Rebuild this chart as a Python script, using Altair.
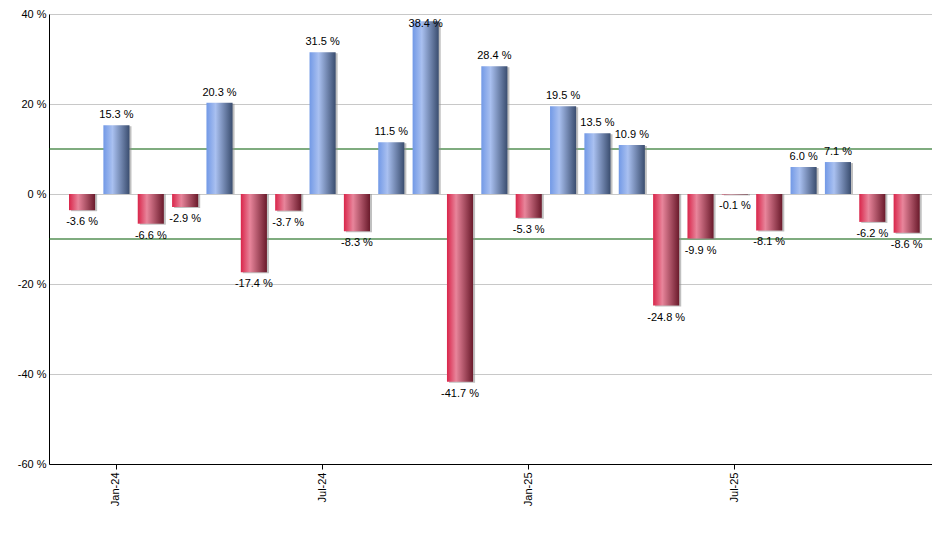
import altair as alt
import pandas as pd

months = ["Dec-23", "Jan-24", "Feb-24", "Mar-24", "Apr-24", "May-24", "Jun-24",
          "Jul-24", "Aug-24", "Sep-24", "Oct-24", "Nov-24", "Dec-24",
          "Jan-25", "Feb-25", "Mar-25", "Apr-25", "May-25", "Jun-25",
          "Jul-25", "Aug-25", "Sep-25", "Oct-25", "Nov-25", "Dec-25"]
values = [-3.6, 15.3, -6.6, -2.9, 20.3, -17.4, -3.7, 31.5, -8.3, 11.5, 38.4, -41.7, 28.4,
          -5.3, 19.5, 13.5, 10.9, -24.8, -9.9, -0.1, -8.1, 6.0, 7.1, -6.2, -8.6]
tick_labels = ["Jan-24", "Jul-24", "Jan-25", "Jul-25"]
y_ticks = [-60, -40, -20, 0, 20, 40]
ref_lines = [10, -10]

df = pd.DataFrame({"month": months, "v": values})
ref_df = pd.DataFrame({"r": ref_lines})

FONT = "Liberation Sans"

x_axis = alt.Axis(values=tick_labels, title=None, labelAngle=270,
                  labelAlign="right", labelBaseline="middle",
                  tickSize=5, tickColor="black", labelPadding=3,
                  domainColor="black", grid=False,
                  labelFont=FONT, labelFontSize=11, labelColor="black")
x_enc = alt.X("month:N", sort=months,
              scale=alt.Scale(paddingInner=0.24, paddingOuter=0.47, align=0.62),
              axis=x_axis)
y_scale = alt.Scale(domain=[-60, 40], nice=False, zero=False)
y_axis = alt.Axis(values=y_ticks, title=None,
                  labelExpr="datum.value + ' %'", ticks=False,
                  labelPadding=3, domainColor="black",
                  grid=True, gridColor="#c8c8c8",
                  labelFont=FONT, labelFontSize=11, labelColor="black")
y_enc = alt.Y("v:Q", scale=y_scale, axis=y_axis)

blue = alt.Gradient(gradient="linear", x1=0, x2=1, y1=0, y2=0,
                    stops=[alt.GradientStop(color="#7299e6", offset=0),
                           alt.GradientStop(color="#a9c0f0", offset=0.35),
                           alt.GradientStop(color="#3a4d6f", offset=1)])
red = alt.Gradient(gradient="linear", x1=0, x2=1, y1=0, y2=0,
                   stops=[alt.GradientStop(color="#d9254a", offset=0),
                          alt.GradientStop(color="#e8859b", offset=0.35),
                          alt.GradientStop(color="#6a1a2b", offset=1)])

base = alt.Chart(df)

rules = alt.Chart(ref_df).mark_rule(color="#005a00", strokeWidth=1.2).encode(
    y=alt.Y("r:Q", scale=y_scale, axis=y_axis))

shadow = base.mark_bar(color="#8c8c8c", opacity=0.55, xOffset=2, yOffset=1).encode(
    x=x_enc, y=y_enc, y2=alt.datum(0))

pos_bars = base.transform_filter("datum.v >= 0").mark_bar(color=blue).encode(
    x=x_enc, y=y_enc, y2=alt.datum(0))
neg_bars = base.transform_filter("datum.v < 0").mark_bar(color=red).encode(
    x=x_enc, y=y_enc, y2=alt.datum(0))

label_expr = "(datum.v < 0 ? '-' : '') + format(abs(datum.v), '.1f') + ' %'"

pos_text = base.transform_filter("datum.v >= 0").transform_calculate(
    label=label_expr,
    ly="datum.v > 36 ? datum.v - 2.8 : datum.v"
).mark_text(baseline="alphabetic", dy=-7, font=FONT, fontSize=11, color="black").encode(
    x=alt.X("month:N", sort=months), y=alt.Y("ly:Q", scale=y_scale), text="label:N")
neg_text = base.transform_filter("datum.v < 0").transform_calculate(
    label=label_expr
).mark_text(baseline="top", dy=6, font=FONT, fontSize=11, color="black").encode(
    x=alt.X("month:N", sort=months), y=alt.Y("v:Q", scale=y_scale), text="label:N")

chart = alt.layer(rules, shadow, pos_bars, neg_bars, pos_text, neg_text).properties(
    width=883, height=450,
    autosize=alt.AutoSizeParams(type="none"),
    padding={"left": 41, "top": 6, "right": 0, "bottom": 70},
).configure_view(strokeWidth=0).configure(background="white")

chart.save("out.html", embed_options={"renderer": "svg", "actions": False})
